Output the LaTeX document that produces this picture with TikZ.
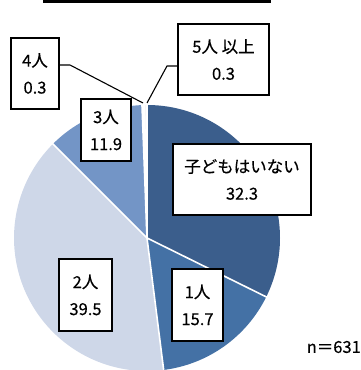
\documentclass[tikz,border=0pt]{standalone}
\usepackage{fontspec}
\setmainfont{Noto Sans CJK JP}[BoldFont={Noto Sans CJK JP}, BoldFeatures={FakeBold=0.35}]
\definecolor{cNone}{HTML}{3B5E8C}
\definecolor{cOne}{HTML}{4471A5}
\definecolor{cTwo}{HTML}{CED7E8}
\definecolor{cThree}{HTML}{7395C6}
\definecolor{cFour}{HTML}{FFFFFF}
\definecolor{cFive}{HTML}{F2F2F2}
\tikzset{
  lbl/.style={draw=black, line width=1.3pt, fill=white, inner sep=0pt, align=center,
    font=\fontsize{16.5}{27}\bfseries\selectfont},
  leader/.style={draw=black, line width=1.1pt},
  sep/.style={draw=white, line width=1.6pt},
}
\newcommand{\slice}[3]{% color, start, end
  \fill[#1] (c) -- ++(#2:133) arc[start angle=#2, end angle=#3, radius=133] -- cycle;
}
\begin{document}
\begin{tikzpicture}[x=1pt,y=1pt]
\useasboundingbox (0,0) rectangle (361,370);
\begin{scope}
\clip (0,0) rectangle (361,370);
\coordinate (c) at (147,132);
\slice{cNone}{90}{-26.28}
\slice{cOne}{-26.28}{-82.8}
\slice{cTwo}{-82.8}{-225}
\slice{cThree}{-225}{-267.84}
\slice{cFour}{-267.84}{-268.92}
\slice{cFive}{-268.92}{-270}
\foreach \a in {90,-26.28,-82.8,-225,-267.84,-268.92}
  \draw[sep] (c) -- ++(\a:134);
% top frame line
\draw[line width=2.8pt] (43,368.6) -- (271,368.6);
\end{scope}
% labels
\node[lbl, minimum width=48pt, minimum height=71pt] (b4) at (35,296.5) {4人\\0.3};
\node[lbl, minimum width=91pt, minimum height=71pt] (b5) at (223.5,310.5) {5人 以上\\0.3};
\node[lbl, minimum width=50pt, minimum height=62pt] (b3) at (106,240) {3人\\11.9};
\node[lbl, minimum width=138pt, minimum height=71pt] (b0) at (242,190.5) {子どもはいない\\32.3};
\node[lbl, minimum width=53pt, minimum height=72pt] (b2) at (85.5,75) {2人\\39.5};
\node[lbl, minimum width=51pt, minimum height=72pt] (b1) at (197.5,65) {1人\\15.7};
\node[font=\fontsize{16.5}{20}\bfseries\selectfont, anchor=east, inner sep=0pt] (n) at (361,23) {n＝631};
% leaders
\coordinate (k4) at (70,305);
\coordinate (e4) at (143,267);
\coordinate (k5) at (167,304);
\coordinate (e5) at (147,267);
\draw[leader] (b4.east |- k4) -- (k4) -- (e4);
\draw[leader] (b5.west |- k5) -- (k5) -- (e5);
\end{tikzpicture}
\end{document}
